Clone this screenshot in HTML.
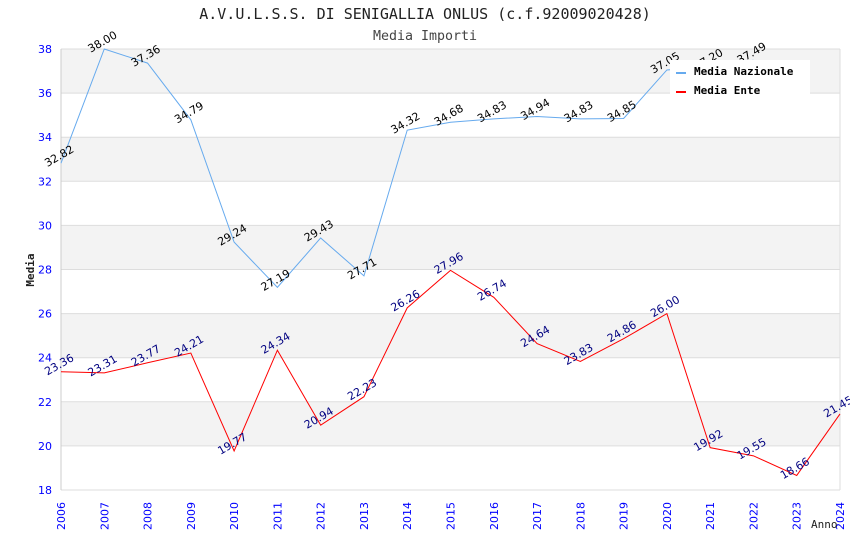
<!DOCTYPE html>
<html><head><meta charset="utf-8"><style>
body{margin:0;background:#fff}
</style></head><body>
<svg id="chart" width="850" height="550" xmlns="http://www.w3.org/2000/svg" font-family="DejaVu Sans, Liberation Sans, sans-serif">
<rect width="850" height="550" fill="#fff"/>
<text x="425" y="19" text-anchor="middle" style="font-family:'DejaVu Sans Mono','Liberation Mono',monospace" font-size="15" fill="#222">A.V.U.L.S.S. DI SENIGALLIA ONLUS (c.f.92009020428)</text>
<text x="425" y="40" text-anchor="middle" style="font-family:'DejaVu Sans Mono','Liberation Mono',monospace" font-size="13.3" fill="#444">Media Importi</text>
<g id="grid"></g><g id="axes"></g><g id="series"></g><g id="labels"></g>
<text transform="translate(34,270) rotate(-90)" text-anchor="middle" style="font-family:'DejaVu Sans Mono',monospace" font-size="11" font-weight="bold" fill="#222">Media</text>
<text x="811" y="528" style="font-family:'DejaVu Sans Mono',monospace" font-size="11" fill="#222">Anno</text>
<g>
<rect x="670" y="60" width="140" height="40" fill="#fff"/>
<rect x="676" y="72" width="10" height="2" fill="#66aaee"/>
<text x="694" y="75" style="font-family:'DejaVu Sans Mono',monospace" font-size="11" font-weight="bold" fill="#000">Media Nazionale</text>
<rect x="676" y="91" width="10" height="2" fill="#ff0000"/>
<text x="694" y="94" style="font-family:'DejaVu Sans Mono',monospace" font-size="11" font-weight="bold" fill="#000">Media Ente</text>
</g>
</svg>
<script>
const years=[2006,2007,2008,2009,2010,2011,2012,2013,2014,2015,2016,2017,2018,2019,2020,2021,2022,2023,2024];
const nazionale=[32.82,38.00,37.36,34.79,29.24,27.19,29.43,27.71,34.32,34.68,34.83,34.94,34.83,34.85,37.05,37.2,37.49,null,null];
const ente=[23.36,23.31,23.77,24.21,19.77,24.34,20.94,22.23,26.26,27.96,26.74,24.64,23.83,24.86,26.00,19.92,19.55,18.66,21.45];
const yTicks=[18,20,22,24,26,28,30,32,34,36,38];
const NS="http://www.w3.org/2000/svg";
const L=61,R=840,T=49,B=490,yMin=18,yMax=38;
const xs=i=>L+(R-L)*i/(years.length-1);
const ys=v=>B-(B-T)*(v-yMin)/(yMax-yMin);
function mk(tag,parent,attrs){const e=document.createElementNS(NS,tag);for(const k in attrs)e.setAttribute(k,attrs[k]);document.getElementById(parent).appendChild(e);return e;}
for(let i=0;i<yTicks.length-1;i++){
 const a=yTicks[i],b=yTicks[i+1];
 if(i%2===1){const r=mk('rect','grid',{x:L,y:ys(b),width:R-L,height:ys(a)-ys(b),fill:'#f3f3f3'});
 
 }
}
yTicks.forEach(t=>{
 const l=mk('line','grid',{x1:L,x2:R,y1:ys(t),y2:ys(t),stroke:'#dddddd'});
 
 
 const tx=mk('text','axes',{x:L-9,y:ys(t)+4,'text-anchor':'end','font-size':'11',fill:'#0000ff'});
 tx.textContent=t;
 
 
});
const ax=mk('line','axes',{x1:L,x2:L,y1:T,y2:B,stroke:'#cccccc'});


const ax2=mk('line','axes',{x1:R,x2:R,y1:T,y2:B,stroke:'#dddddd'});


years.forEach((y,i)=>{
 const tx=mk('text','axes',{transform:`translate(${xs(i)+4},${B+40}) rotate(-90)`,'font-size':'11',fill:'#0000ff'});
 tx.textContent=y;
 
 
});
function series(vals,color,lc,name){
 let d='';vals.forEach((v,i)=>{if(v==null)return;d+=(d?'L':'M')+xs(i)+','+ys(v);});
 const p=mk('path','series',{d:d,fill:'none',stroke:color,'stroke-width':'1'});
 
 
 vals.forEach((v,i)=>{if(v==null)return;
  const t=mk('text','labels',{transform:`translate(${xs(i)},${ys(v)-4}) rotate(-30)`,'text-anchor':'middle','font-size':'11',fill:lc});
  t.textContent=v.toFixed(2);
  
  
 });
}
series(nazionale,'#66aaee','#000','media-nazionale');
series(ente,'#ff0000','#000080','media-ente');
</script>
</body></html>
